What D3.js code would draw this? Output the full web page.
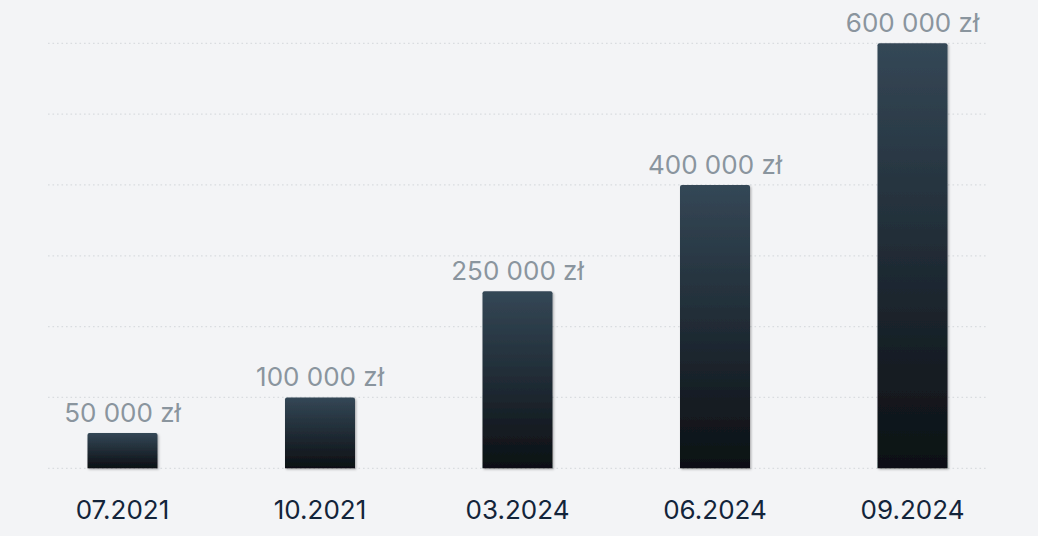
<!DOCTYPE html>
<html>
  <head>
    <meta charset="UTF-8" />
    <title>Bar chart</title>
    <style>
      html, body { margin: 0; padding: 0; background: #f3f4f6; }
      svg { display: block; font-family: Inter, "Noto Sans", sans-serif; }
    </style>
  </head>
  <body>
    <svg></svg>
    <script src="https://d3js.org/d3.v7.min.js"></script>
    <script>
      // data
      const periods = ["07.2021", "10.2021", "03.2024", "06.2024", "09.2024"];
      const amounts = [50000, 100000, 250000, 400000, 600000];
      const gridTicks = [0, 100000, 200000, 300000, 400000, 500000, 600000];

      const width = 1038,
        height = 536;
      const svg = d3.select("svg").attr("width", width).attr("height", height);

      const defs = svg.append("defs");
      const grad = defs
        .append("linearGradient")
        .attr("id", "barGrad")
        .attr("x1", 0).attr("y1", 0)
        .attr("x2", 0).attr("y2", 1);
      grad.append("stop").attr("offset", "0%").attr("stop-color", "#344756");
      grad.append("stop").attr("offset", "100%").attr("stop-color", "#0c1014");

      defs
        .append("filter")
        .attr("id", "shadow")
        .attr("x", "-10%").attr("y", "-10%")
        .attr("width", "130%").attr("height", "130%")
        .append("feDropShadow")
        .attr("dx", 1.2)
        .attr("dy", 1.2)
        .attr("stdDeviation", 0.8)
        .attr("flood-color", "#000")
        .attr("flood-opacity", 0.3);

      let x = d3.scalePoint().domain(periods).range([122.5, 912.5]);
      let y = d3.scaleLinear().domain([0, 600000]).range([468.3, 43.3]);
      const barW = 70;

      // dotted grid lines
      svg
        .append("g")
        .attr("id", "grid")
        .selectAll("line")
        .data(gridTicks)
        .enter()
        .append("line")
        .attr("x1", 48)
        .attr("x2", 987)
        .attr("y1", (d) => y(d))
        .attr("y2", (d) => y(d))
        .attr("stroke", "#d9dce0")
        .attr("stroke-width", 1.3)
        .attr("stroke-dasharray", "1.6,2.9");

      const data = periods.map((p, i) => ({ period: p, amount: amounts[i] }));

      svg
        .append("g")
        .attr("id", "bars")
        .selectAll("path")
        .data(data)
        .enter()
        .append("path")
        .attr("fill", "url(#barGrad)")
        .attr("filter", "url(#shadow)")
        .attr("d", (d) => {
          let x0 = x(d.period) - barW / 2,
            x1 = x0 + barW,
            y0 = y(d.amount),
            y1 = y(0),
            r = 2;
          return (
            "M" + x0 + "," + y1 +
            "V" + (y0 + r) +
            "Q" + x0 + "," + y0 + " " + (x0 + r) + "," + y0 +
            "H" + (x1 - r) +
            "Q" + x1 + "," + y0 + " " + x1 + "," + (y0 + r) +
            "V" + y1 + "Z"
          );
        });

      const fmt = (v) => d3.format(",")(v).replace(/,/g, " ") + " zł";

      // value labels
      svg
        .append("g")
        .attr("id", "values")
        .selectAll("text")
        .data(data)
        .enter()
        .append("text")
        .attr("x", (d) => x(d.period))
        .attr("y", (d) => y(d.amount) - 11)
        .attr("text-anchor", "middle")
        .attr("fill", "#8a959e")
        .style("font-size", "26px")
        .text((d) => fmt(d.amount));

      // category labels
      svg
        .append("g")
        .attr("id", "categories")
        .selectAll("text")
        .data(periods)
        .enter()
        .append("text")
        .attr("x", (d) => x(d))
        .attr("y", 519.3)
        .attr("text-anchor", "middle")
        .attr("fill", "#13243a")
        .style("font-size", "26px")
        .text((d) => d);
    </script>
  </body>
</html>
